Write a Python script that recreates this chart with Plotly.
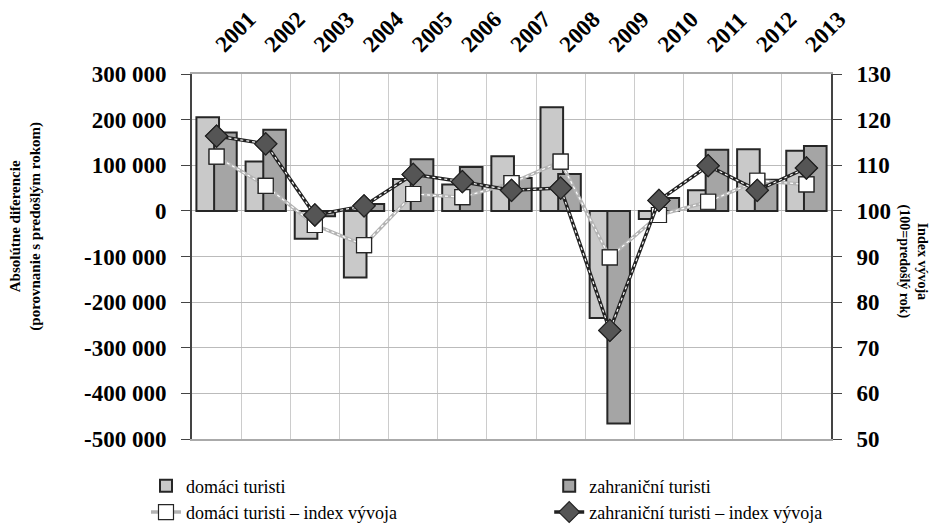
import plotly.graph_objects as go

years = ["2001", "2002", "2003", "2004", "2005", "2006", "2007",
         "2008", "2009", "2010", "2011", "2012", "2013"]

# absolute differences vs previous year
domaci_diff = [205000, 108000, -61000, -146000, 70000, 58000, 120000,
               227000, -235000, -18000, 45000, 135000, 132000]
zahranicni_diff = [172000, 178000, -12000, 15000, 113000, 96000, 72000,
                   81000, -466000, 28000, 134000, 68000, 142000]

# index (100 = previous year)
domaci_index = [111.9, 105.5, 96.9, 92.5, 103.7, 103.0, 106.1,
                110.8, 89.8, 99.1, 102.0, 106.6, 105.8]
zahranicni_index = [116.4, 114.7, 99.1, 101.1, 108.0, 106.4, 104.5,
                    105.0, 73.8, 102.3, 109.9, 104.5, 109.4]

left_ticks = [300000, 200000, 100000, 0, -100000, -200000, -300000, -400000, -500000]
left_labels = ["300 000", "200 000", "100 000", "0", "-100 000", "-200 000",
               "-300 000", "-400 000", "-500 000"]
right_ticks = [130, 120, 110, 100, 90, 80, 70, 60, 50]

SERIF = "Liberation Serif"
LIGHT = "#c9c9c9"
DARK = "#a5a5a5"
EDGE = "#262626"

fig = go.Figure()

fig.add_trace(go.Bar(
    x=years, y=domaci_diff, name="domáci turisti",
    offset=-0.41, width=0.46,
    marker=dict(color=LIGHT, line=dict(color=EDGE, width=2)),
    legend="legend",
))
fig.add_trace(go.Bar(
    x=years, y=zahranicni_diff, name="zahraniční turisti",
    offset=-0.05, width=0.46,
    marker=dict(color=DARK, line=dict(color=EDGE, width=2)),
    legend="legend2",
))

# domaci index line: gray with white dots
fig.add_trace(go.Scatter(
    x=years, y=domaci_index, yaxis="y2", mode="lines+markers",
    name="domáci turisti – index vývoja",
    line=dict(color="#b3b3b3", width=3.5),
    marker=dict(symbol="square", size=15, color="white",
                line=dict(color=EDGE, width=1.2)),
    legend="legend",
))
fig.add_trace(go.Scatter(
    x=years, y=domaci_index, yaxis="y2", mode="lines", showlegend=False,
    line=dict(color="white", width=1.2, dash="dot"), hoverinfo="skip",
))
fig.add_trace(go.Scatter(
    x=years, y=domaci_index, yaxis="y2", mode="markers", showlegend=False,
    marker=dict(symbol="square", size=15, color="white",
                line=dict(color=EDGE, width=1.2)),
    hoverinfo="skip",
))

# zahranicni index line: black with white dots
fig.add_trace(go.Scatter(
    x=years, y=zahranicni_index, yaxis="y2", mode="lines+markers",
    name="zahraniční turisti – index vývoja",
    line=dict(color="#222222", width=3.5),
    marker=dict(symbol="diamond", size=17, color="#555555",
                line=dict(color="#222222", width=1.2)),
    legend="legend2",
))
fig.add_trace(go.Scatter(
    x=years, y=zahranicni_index, yaxis="y2", mode="lines", showlegend=False,
    line=dict(color="white", width=1.2, dash="dot"), hoverinfo="skip",
))
fig.add_trace(go.Scatter(
    x=years, y=zahranicni_index, yaxis="y2", mode="markers", showlegend=False,
    marker=dict(symbol="diamond", size=17, color="#555555",
                line=dict(color="#222222", width=1.2)),
    hoverinfo="skip",
))

tick_font = dict(family=SERIF, size=23, color="black", weight="bold")
legend_font = dict(family=SERIF, size=18, color="black")

fig.update_layout(
    width=942, height=526,
    barmode="overlay",
    plot_bgcolor="white",
    paper_bgcolor="white",
    font=dict(family=SERIF, color="black"),
    margin=dict(l=192, r=111, t=74, b=87, autoexpand=False),
    xaxis=dict(
        side="top", tickangle=-45, type="category", automargin=False,
        tickfont=tick_font, ticklabelstandoff=6,
        showgrid=True, gridcolor="#cccccc", gridwidth=1, tickson="boundaries",
        showline=True, linecolor="#aaaaaa", linewidth=2, mirror=True,
        ticks="", range=[-0.5, 12.5],
    ),
    yaxis=dict(
        range=[-500000, 300000], tickvals=left_ticks, ticktext=left_labels,
        tickfont=tick_font, automargin=False, ticklabelstandoff=10,
        showgrid=True, gridcolor="#bbbbbb", gridwidth=1, zeroline=False,
        showline=True, linecolor="#444444", linewidth=2,
        ticks="outside", ticklen=9, tickcolor="#444444", tickwidth=1,
    ),
    yaxis2=dict(
        overlaying="y", side="right", range=[50, 130], tickvals=right_ticks,
        tickfont=tick_font, automargin=False, ticklabelstandoff=10,
        showgrid=False, zeroline=False,
        showline=True, linecolor="#444444", linewidth=2,
        ticks="outside", ticklen=9, tickcolor="#444444", tickwidth=1,
    ),
    legend=dict(
        x=-0.072, y=-0.078, xanchor="left", yanchor="top",
        orientation="v", traceorder="normal", tracegroupgap=0,
        font=legend_font, itemwidth=30, bgcolor="rgba(0,0,0,0)",
    ),
    legend2=dict(
        x=0.559, y=-0.078, xanchor="left", yanchor="top",
        orientation="v", traceorder="normal", tracegroupgap=0,
        font=legend_font, itemwidth=30, bgcolor="rgba(0,0,0,0)",
    ),
    annotations=[
        dict(
            text="<b>Absolútne diferencie<br>(porovnanie s predošlým rokom)</b>",
            xref="paper", yref="paper", x=-0.26, y=0.584,
            xanchor="center", yanchor="middle", textangle=-90, showarrow=False,
            font=dict(family=SERIF, size=15, color="black"),
        ),
        dict(
            text="<b>Index vývoja<br>(100=predošlý rok)</b>",
            xref="paper", yref="paper", x=1.129, y=0.485,
            xanchor="center", yanchor="middle", textangle=90, showarrow=False,
            font=dict(family=SERIF, size=14, color="black"),
        ),
    ],
    showlegend=True,
)

fig.write_html("out.html", config={"displayModeBar": False},
               post_script="document.body.style.margin='0';")
